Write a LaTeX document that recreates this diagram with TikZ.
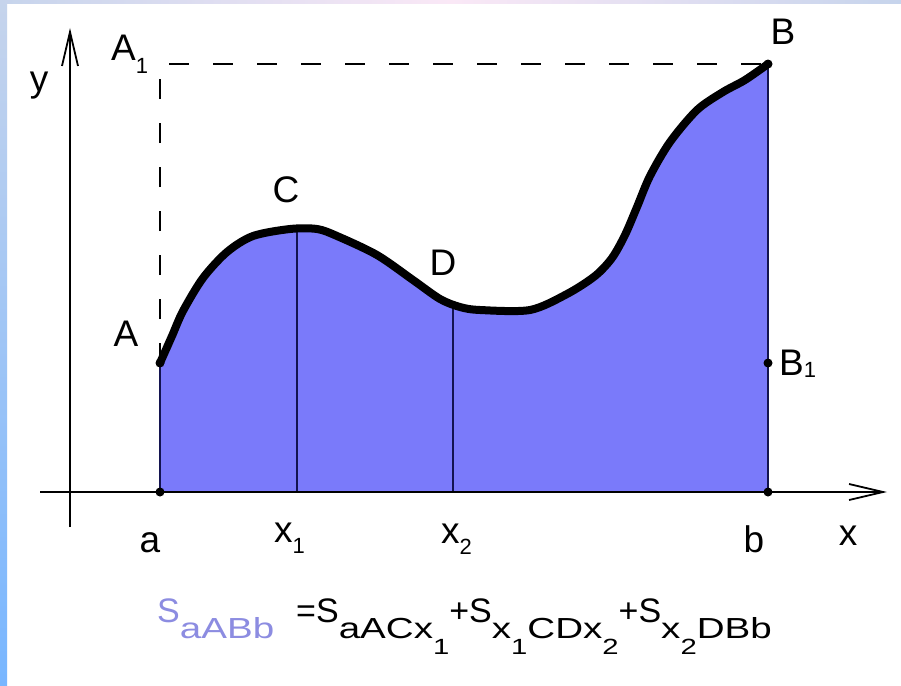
\documentclass[tikz,border=0pt]{standalone}
\usepackage{fontspec}
\setmainfont{Liberation Sans}
\usetikzlibrary{arrows.meta}

\definecolor{areafill}{RGB}{122,122,250}
\definecolor{navyline}{RGB}{20,20,80}
\definecolor{lavtext}{RGB}{140,140,225}
\definecolor{frameblue}{RGB}{120,182,255}
\definecolor{framelilac}{RGB}{198,212,236}
\definecolor{framepink}{RGB}{250,232,246}

% index placed low beside a label
\newcommand\lowidx[2][11pt]{\raisebox{-#1}{\fontsize{22}{22}\selectfont #2}}
% subscripts of the area formula
\newcommand\fsub[1]{\raisebox{-16pt}{\scalebox{1.33}[1]{\fontsize{29}{29}\selectfont #1}}}
\newcommand\fss[1]{\raisebox{-16pt}{\fontsize{22}{22}\selectfont #1}}

\begin{document}
\begin{tikzpicture}[x=1pt, y=-1pt,
  lbl/.style={font=\fontsize{37}{37}\selectfont, inner sep=0pt},
  axis/.style={line width=2pt, -{Straight Barb[length=34pt,width=16pt,line width=1.8pt]}},
  guide/.style={line width=2.5pt, dash pattern=on 20pt off 24pt},
  ordinate/.style={line width=2pt, draw=navyline},
  graph/.style={line width=8pt, line cap=round, line join=round},
  dot/.style={circle, fill=black, inner sep=0pt, minimum size=9pt}]

  % frame
  \useasboundingbox (0,0) rectangle (901,685);
  \fill[white] (0,0) rectangle (901,685);
  \shade[top color=framelilac, bottom color=frameblue] (0,0) rectangle (7,685);
  \shade[left color=framelilac, right color=framelilac, middle color=framepink] (0,0) rectangle (901,4);

  % points of the graph
  \coordinate (a) at (160,492);
  \coordinate (A) at (160,363);
  \coordinate (x1) at (297,492);
  \coordinate (C) at (297,229);
  \coordinate (x2) at (453,492);
  \coordinate (D) at (453,305);
  \coordinate (b) at (768,492);
  \coordinate (B) at (768,64);
  \coordinate (B1) at (768,363);
  \coordinate (A1) at (160,64);
  \coordinate (xstart) at (40,492);
  \coordinate (xend) at (887,492);
  \coordinate (ystart) at (70,527);
  \coordinate (yend) at (70,28);

  % area under the curve
  \fill[areafill] plot[smooth, tension=0.5] coordinates {(160,363) (172,336) (183,311) (203,278) (227,252) (253,236) (290,229) (317,229) (337,236) (377,255) (413,280) (440,299) (460,307) (480,310) (530,310) (567,294) (595,276) (612,258) (625,235) (637,207) (650,176) (670,142) (697,110) (723,92) (745,80) (768,64)} -- (b) -- (a) -- cycle;

  % ordinates
  \draw[ordinate] (a) -- (A);
  \draw[ordinate] (x1) -- (C);
  \draw[ordinate] (x2) -- (D);
  \draw[ordinate] (b) -- (B);

  % axes
  \draw[axis] (xstart) -- (xend);
  \draw[axis] (ystart) -- (yend);

  % dashed guides
  \draw[guide] (A) -- (A1) -- (B);

  % the curve
  \draw[graph] plot[smooth, tension=0.5] coordinates {(160,363) (172,336) (183,311) (203,278) (227,252) (253,236) (290,229) (317,229) (337,236) (377,255) (413,280) (440,299) (460,307) (480,310) (530,310) (567,294) (595,276) (612,258) (625,235) (637,207) (650,176) (670,142) (697,110) (723,92) (745,80) (768,64)};

  \node[dot] (dA) at (A) {};
  \node[dot] (da) at (a) {};
  \node[dot] (db) at (b) {};
  \node[dot] (dB1) at (B1) {};
  \node[dot] (dB) at (B) {};

  % labels
  \node[lbl] (ylab) at (39,86) {y};
  \node[lbl, anchor=base west] (A1lab) at (111,60) {A\lowidx[13pt]{1}};
  \node[lbl] (Blab) at (783,32) {B};
  \node[lbl] (Clab) at (286,190) {C};
  \node[lbl] (Dlab) at (443,263) {D};
  \node[lbl] (Alab) at (126,334) {A};
  \node[lbl, anchor=base west] (B1lab) at (779,375) {B\lowidx[2pt]{1}};
  \node[lbl, anchor=base] (alab) at (150,552) {a};
  \node[lbl, anchor=base west] (x1lab) at (274,542) {x\lowidx{1}};
  \node[lbl, anchor=base west] (x2lab) at (441,543) {x\lowidx{2}};
  \node[lbl, anchor=base] (blab) at (754,552) {b};
  \node[lbl] (xlab) at (848,536) {x};

  % area formula
  \node[anchor=base west, inner sep=0pt, font=\fontsize{34}{34}\selectfont] (area) at (157,622)
    {\textcolor{lavtext}{S\fsub{aABb}}\hspace{22pt}=S\fsub{aACx\fss{1}}+S\fsub{x\fss{1}CDx\fss{2}}+S\fsub{x\fss{2}DBb}};
\end{tikzpicture}
\end{document}
